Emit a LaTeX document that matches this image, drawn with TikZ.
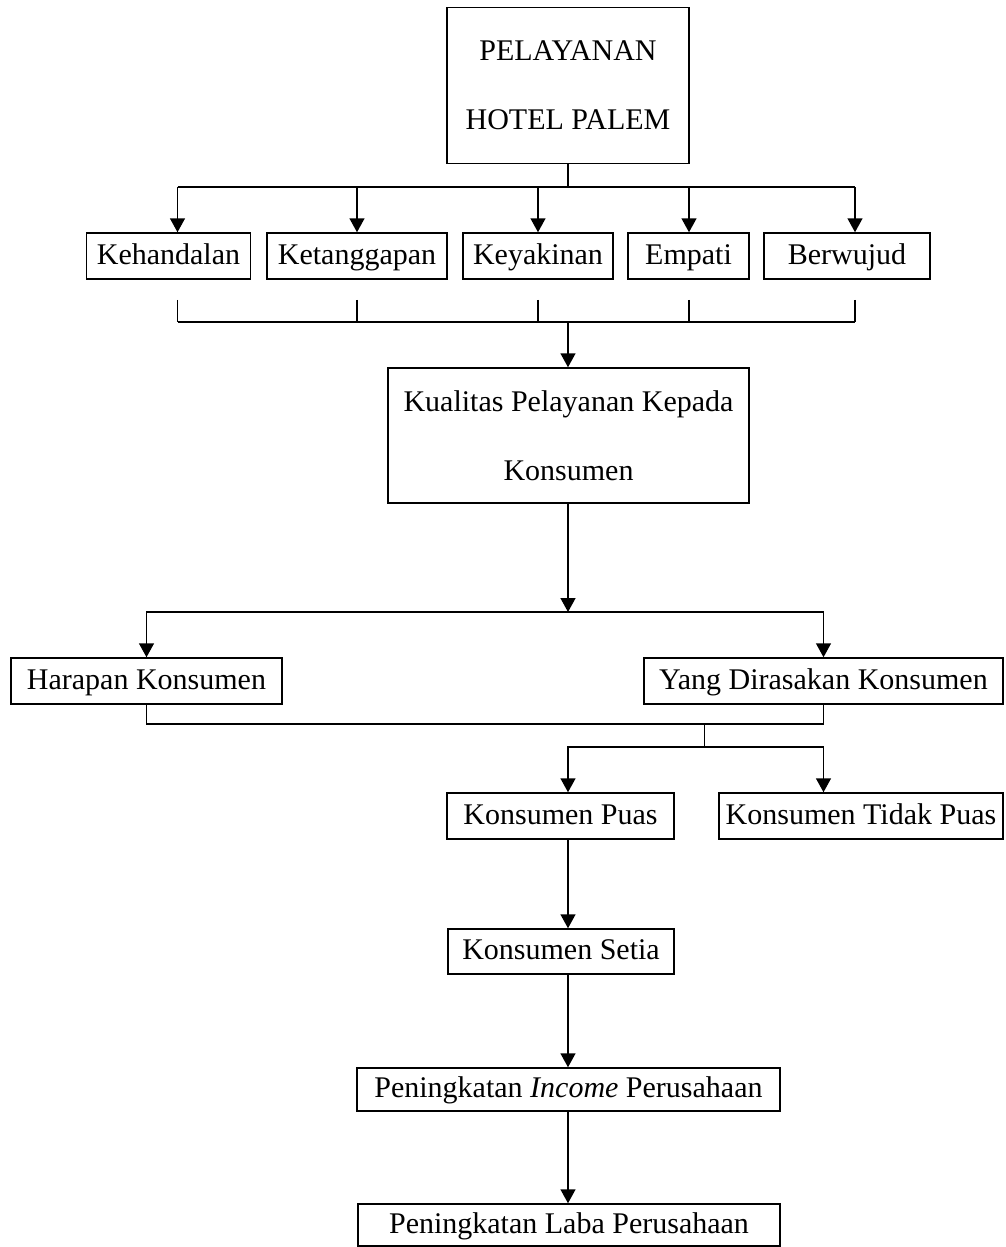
\documentclass[tikz,border=0pt]{standalone}
\usepackage{fontspec}
\setmainfont{Liberation Serif}
\usetikzlibrary {arrows.meta}
\usetikzlibrary {calc}

\begin{document}
\begin{tikzpicture}[x=1pt, y=-1pt, line width=1.5pt,
        >={Triangle[width=15pt, length=14pt]},
        box/.style={draw, inner sep=0pt, text height=22pt, text depth=6pt,
            font=\fontsize{30}{36}\selectfont},
        tallbox/.style={draw, inner sep=0pt, align=center,
            font=\fontsize{30}{69}\selectfont}]
    \useasboundingbox (0,0) rectangle (1005,1247);
    \coordinate (axis) at (568,0);

    \node[tallbox, minimum width=242pt, minimum height=156pt] (hotel) at (568,85.5)
        {PELAYANAN\\HOTEL PALEM};

    \node[box, minimum width=164pt, minimum height=46pt] (kehandalan) at (168.5,256) {Kehandalan};
    \node[box, minimum width=180pt, minimum height=46pt] (ketanggapan) at (357,256) {Ketanggapan};
    \node[box, minimum width=150pt, minimum height=46pt] (keyakinan) at (538,256) {Keyakinan};
    \node[box, minimum width=121pt, minimum height=46pt] (empati) at (688.5,256) {Empati};
    \node[box, minimum width=166pt, minimum height=46pt] (berwujud) at (847,256) {Berwujud};

    \node[tallbox, minimum width=361pt, minimum height=135pt] (kualitas) at (568.5,435.5)
        {Kualitas Pelayanan Kepada\\Konsumen};

    \node[box, minimum width=271pt, minimum height=46pt] (harapan) at (146.5,681) {Harapan Konsumen};
    \node[box, minimum width=359pt, minimum height=46pt] (yang) at (823.5,681) {Yang Dirasakan Konsumen};

    \node[box, minimum width=227pt, minimum height=46pt] (puas) at (560.5,816) {Konsumen Puas};
    \node[box, minimum width=284pt, minimum height=46pt] (tidakpuas) at (861,816) {Konsumen Tidak Puas};
    \node[box, minimum width=226pt, minimum height=45pt] (setia) at (561,951.5) {Konsumen Setia};
    \node[box, minimum width=423pt, minimum height=43pt] (income) at (568.5,1089.5)
        {Peningkatan \textit{Income} Perusahaan};
    \node[box, minimum width=422pt, minimum height=42pt] (laba) at (569,1225)
        {Peningkatan Laba Perusahaan};

    % dimensi pelayanan
    \coordinate (bus1) at (568,187);
    \coordinate (bus2) at (568,322);
    \draw (hotel.south) -- (bus1);
    \draw (177.5,187) -- (855,187);
    \draw (177.5,322) -- (855,322);
    \foreach \n/\x in {kehandalan/177.5, ketanggapan/357, keyakinan/538, empati/689, berwujud/855} {
        \draw[->] (\x,187) -- (\x,187 |- \n.north);
        \draw ($(\x,0 |- \n.south)+(0,20)$) -- (\x,322);
    }
    \draw[->] (bus2) -- (kualitas.north -| bus2);

    % harapan dan kenyataan
    \coordinate (split) at (568,612);
    \draw[->] (kualitas.south -| split) -- (split);
    \draw[->] (split) -| (harapan);
    \draw[->] (split) -| (yang);

    \coordinate (merge) at (704.5,724);
    \coordinate (split2) at (704.5,747);
    \draw (harapan) |- (merge) -| (yang);
    \draw (merge) -- (split2);
    \draw[->] (split2) -| (puas.north -| axis);
    \draw[->] (split2) -| (tidakpuas.north -| yang);

    % akibat
    \draw[->] (puas.south -| axis) -- (setia.north -| axis);
    \draw[->] (setia.south -| axis) -- (income.north -| axis);
    \draw[->] (income.south -| axis) -- (laba.north -| axis);
\end{tikzpicture}
\end{document}
